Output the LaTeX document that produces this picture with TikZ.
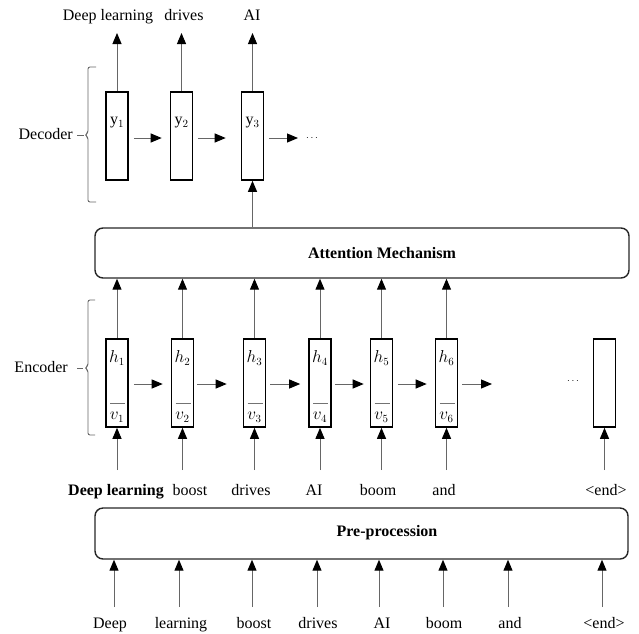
\documentclass[tikz,border=0pt]{standalone}
\usepackage{fontspec}
\setmainfont{Liberation Serif}
\usetikzlibrary{arrows.meta}
\begin{document}
\begin{tikzpicture}[x=1pt,y=-1pt,font=\fontsize{16}{19}\selectfont,
  cell/.style={draw=black,line width=1.6pt,minimum width=22pt,minimum height=88pt,inner sep=0pt},
  wide/.style={draw=black!85,line width=1.4pt,rounded corners=8pt,inner sep=0pt},
  arr/.style={draw=black!60,line width=1pt,-{Triangle[width=9pt,length=11pt,color=black]}},
  lbl/.style={inner sep=0pt,anchor=base},
  brk/.style={draw=black!60,line width=0.9pt,rounded corners=2pt},
  bar/.style={draw=black!55,line width=0.9pt},
  dots/.style={font=\fontsize{10}{12}\selectfont,inner sep=0pt}]
\useasboundingbox (0,0) rectangle (639,633);

% ---------- Decoder ----------
\node[cell] (y1) at (117,136) {};
\node[cell] (y2) at (181.5,136) {};
\node[cell] (y3) at (252.5,136) {};
\node (y1t) at (117,123) {$\mathrm{y}_1$};
\node (y2t) at (181.5,123) {$\mathrm{y}_2$};
\node (y3t) at (252.5,123) {$\mathrm{y}_3$};

\node[lbl] (o1) at (108,20) {Deep learning};
\node[lbl] (o2) at (184,20) {drives};
\node[lbl] (o3) at (252,20) {AI};
\coordinate (o1t) at (117,33);
\coordinate (o2t) at (181.5,33);
\coordinate (o3t) at (252.5,33);
\draw[arr] (y1.north) -- (o1t);
\draw[arr] (y2.north) -- (o2t);
\draw[arr] (y3.north) -- (o3t);

\draw[arr] ([xshift=5pt,yshift=-2pt]y1.east) -- ([xshift=-8pt,yshift=-2pt]y2.west);
\draw[arr] ([xshift=5pt,yshift=-2pt]y2.east) -- ([xshift=-15pt,yshift=-2pt]y3.west);
\coordinate (d3e) at (298,138);
\draw[arr] ([xshift=5pt,yshift=-2pt]y3.east) -- (d3e);
\node[dots] (ddots) at (312,138) {$\cdots$};

\draw[brk] (96,67) -- (88,67) -- (88,133) -- (85,135) -- (88,137) -- (88,202) -- (96,202);
\draw[draw=black!60,line width=0.9pt] (77,135) -- (84,135);
\node[anchor=east,inner sep=0pt] (declbl) at (73,134) {Decoder};

% ---------- Attention ----------
\node[wide,minimum width=534pt,minimum height=50pt] (att) at (362,253) {};
\node[font=\fontsize{16}{19}\selectfont\bfseries] (atttxt) at (382,253) {Attention Mechanism};
\draw[arr] (att.north -| y3) -- (y3.south);

% ---------- Encoder ----------
\foreach \n/\x in {1/117,2/182.5,3/254.5,4/320,5/381.5,6/446.5}{
  \node[cell] (h\n) at (\x,383) {};
  \node (h\n t) at (\x,358) {$h_{\n}$};
  \draw[bar] (\x-7,403) -- (\x+8,403);
  \node (v\n t) at (\x,417) {$v_{\n}$};
  \draw[arr] (h\n.north) -- (h\n.north |- att.south);
  \coordinate (in\n) at (\x,470);
  \draw[arr] (in\n) -- (h\n.south);
}
\node[cell] (h7) at (604.5,383) {};
\coordinate (in7) at (604.5,470);
\draw[arr] (in7) -- (h7.south);

\draw[arr] ([xshift=5pt,yshift=-1pt]h1.east) -- ([xshift=-8pt,yshift=-1pt]h2.west);
\draw[arr] ([xshift=3pt,yshift=-1pt]h2.east) -- ([xshift=-16pt,yshift=-1pt]h3.west);
\draw[arr] ([xshift=4pt,yshift=-1pt]h3.east) -- ([xshift=-8pt,yshift=-1pt]h4.west);
\draw[arr] ([xshift=3pt,yshift=-1pt]h4.east) -- ([xshift=-6pt,yshift=-1pt]h5.west);
\draw[arr] ([xshift=5pt,yshift=-1pt]h5.east) -- ([xshift=-8pt,yshift=-1pt]h6.west);
\coordinate (h6e) at (492,384);
\draw[arr] ([xshift=4pt,yshift=-1pt]h6.east) -- (h6e);
\node[dots] (edots) at (573,381) {$\cdots$};

\draw[brk] (95,300) -- (88,300) -- (88,366) -- (85,368) -- (88,370) -- (88,435) -- (95,435);
\draw[draw=black!60,line width=0.9pt] (77,368) -- (83,368);
\node[anchor=east,inner sep=0pt] (enclbl) at (68,367) {Encoder};

\node[lbl,font=\fontsize{16}{19}\selectfont\bfseries] (e1) at (116,495) {Deep learning};
\node[lbl] (e2) at (190,495) {boost};
\node[lbl] (e3) at (251,495) {drives};
\node[lbl] (e4) at (314,495) {AI};
\node[lbl] (e5) at (378,495) {boom};
\node[lbl] (e6) at (444,495) {and};
\node[lbl] (e7) at (606,495) {<end>};

% ---------- Pre-procession ----------
\node[wide,minimum width=533pt,minimum height=51pt] (pre) at (361.5,533.5) {};
\node[font=\fontsize{16}{19}\selectfont\bfseries] (pretxt) at (387,533) {Pre-procession};

\foreach \n/\x/\lx/\w in {1/114/110/Deep,2/179/181/learning,3/252/254/boost,4/317/318/drives,5/379/382/AI,6/443/444/boom,7/508/510/and,8/602/604/<end>}{
  \coordinate (b\n) at (\x,607);
  \draw[arr] (b\n) -- (b\n |- pre.south);
  \node[lbl] (w\n) at (\lx,628) {\w};
}
\end{tikzpicture}
\end{document}
